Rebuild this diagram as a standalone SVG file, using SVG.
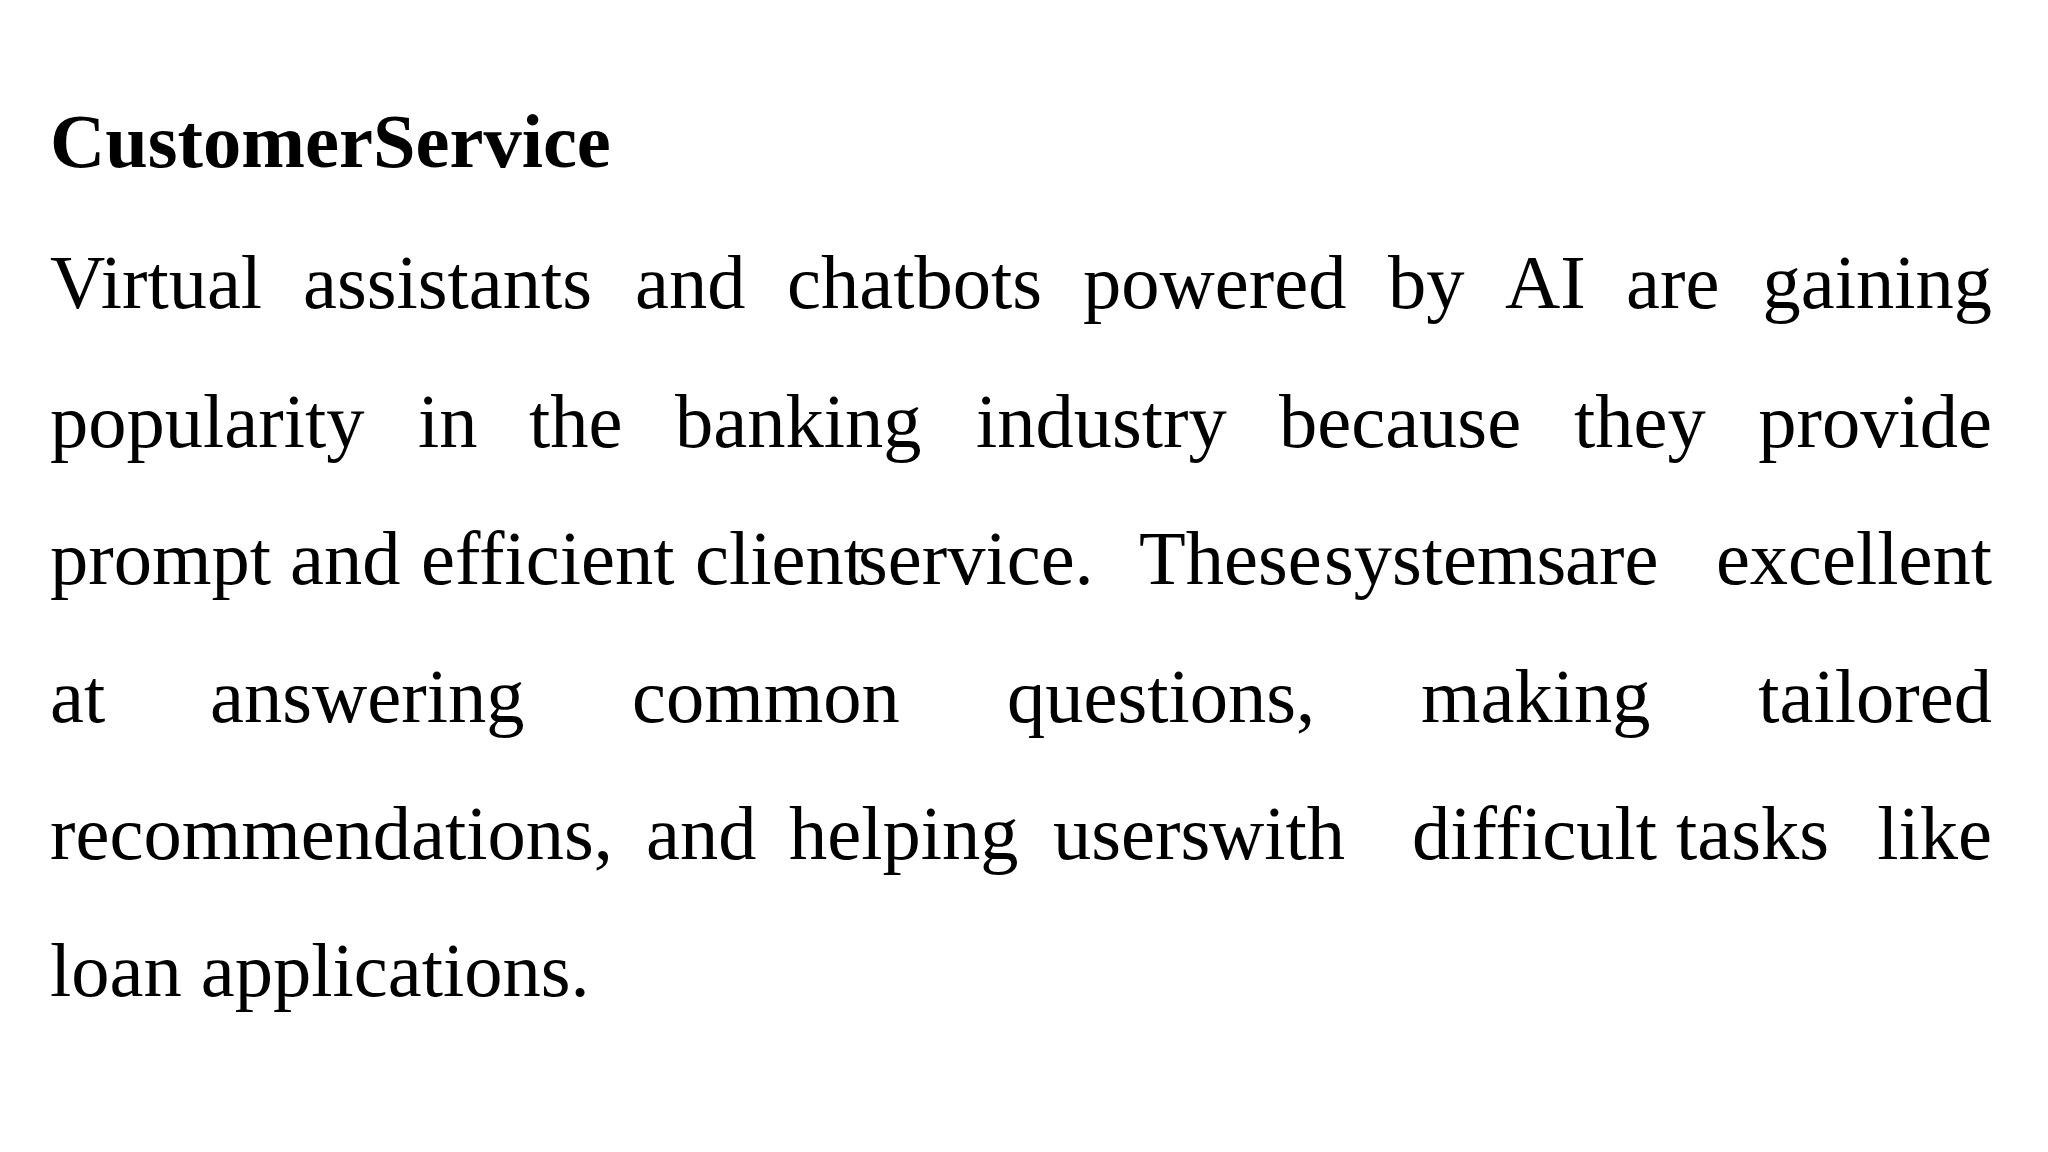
<svg xmlns="http://www.w3.org/2000/svg" width="2048" height="1152" viewBox="0 0 2048 1152">
<style>
text{font-family:"Liberation Serif","Times New Roman",serif;font-size:76.5px;fill:#000}
.t{font-weight:bold}
.e{text-anchor:end}
</style>
<rect width="2048" height="1152" fill="#fff"/>
<g id="title"><text class="t" x="50" y="167">CustomerService</text></g>
<g id="body">
<text y="308"><tspan x="50">Virtual</tspan><tspan x="303">assistants</tspan><tspan x="635">and</tspan><tspan x="787">chatbots</tspan><tspan x="1083">powered</tspan><tspan x="1388">by</tspan><tspan x="1505">AI</tspan><tspan x="1626">are</tspan></text>
<text class="e" x="1992" y="308">gaining</text>
<text y="447"><tspan x="50">popularity</tspan><tspan x="418">in</tspan><tspan x="529">the</tspan><tspan x="675">banking</tspan><tspan x="976">industry</tspan><tspan x="1279">because</tspan><tspan x="1574">they</tspan></text>
<text class="e" x="1992" y="447">provide</text>
<text y="584"><tspan x="50">prompt</tspan><tspan x="290">and</tspan><tspan x="421">efficient</tspan><tspan x="695">client</tspan><tspan x="858">service.</tspan><tspan x="1139">These</tspan><tspan x="1324">systems</tspan><tspan x="1565">are</tspan></text>
<text class="e" x="1992" y="584">excellent</text>
<text y="722"><tspan x="50">at</tspan><tspan x="210">answering</tspan><tspan x="632">common</tspan><tspan x="1007">questions,</tspan><tspan x="1421">making</tspan></text>
<text class="e" x="1992" y="722">tailored</text>
<text y="859"><tspan x="50">recommendations,</tspan><tspan x="646">and</tspan><tspan x="789">helping</tspan><tspan x="1053">users</tspan><tspan x="1209">with</tspan><tspan x="1412">difficult</tspan><tspan x="1676">tasks</tspan></text>
<text class="e" x="1992" y="859">like</text>
<text x="50" y="996">loan applications.</text>
</g>
</svg>
